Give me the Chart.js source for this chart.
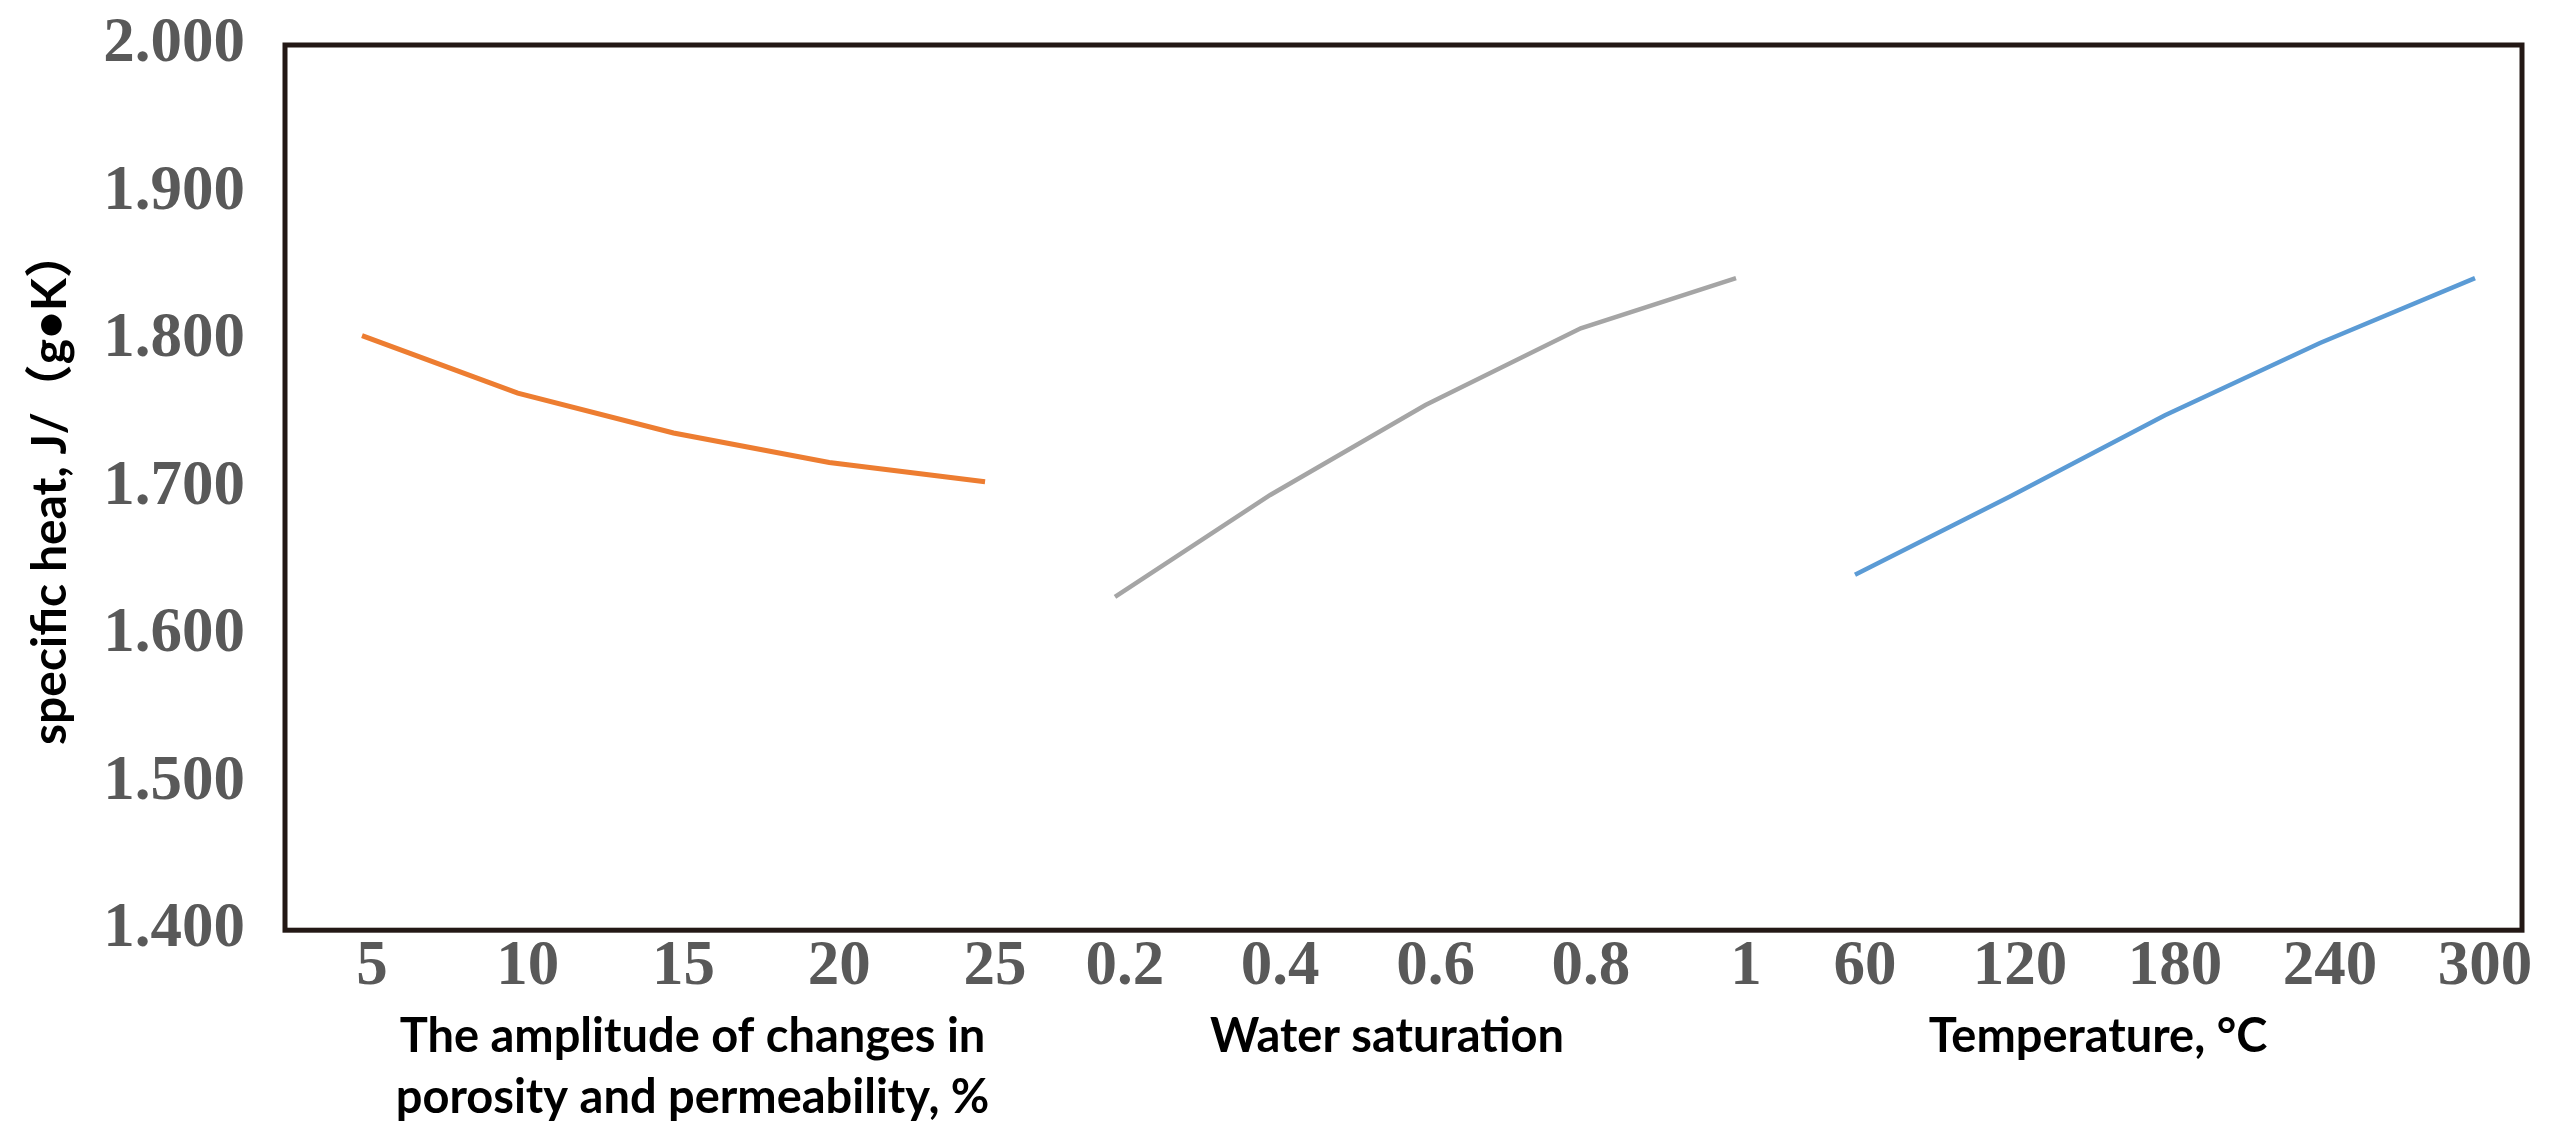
<!DOCTYPE html>
<html>
<head>
<meta charset="utf-8">
<script src="https://cdn.jsdelivr.net/npm/chart.js@4.4.1/dist/chart.umd.min.js"></script>
<style>
  html, body { margin: 0; padding: 0; background: #ffffff; }
  #wrap { width: 2552px; height: 1141px; position: relative; }
</style>
</head>
<body>
<div id="wrap"><canvas id="c"></canvas></div>
<script>
// ---- data ----
const porosityX = [5, 10, 15, 20, 25];
const porosityLabels = ['5', '10', '15', '20', '25'];
const porosityHeat = [1.803, 1.764, 1.737, 1.717, 1.704];

const saturationX = [0.2, 0.4, 0.6, 0.8, 1];
const saturationLabels = ['0.2', '0.4', '0.6', '0.8', '1'];
const saturationHeat = [1.626, 1.695, 1.756, 1.808, 1.842];

const temperatureX = [60, 120, 180, 240, 300];
const temperatureLabels = ['60', '120', '180', '240', '300'];
const temperatureHeat = [1.641, 1.694, 1.749, 1.798, 1.842];

const yTicks = [1.4, 1.5, 1.6, 1.7, 1.8, 1.9, 2.0];

const yTitle = 'specific heat, J/（g•K）';
const xTitle1 = ['The amplitude of changes in', 'porosity and permeability, %'];
const xTitle2 = 'Water saturation';
const xTitle3 = 'Temperature, °C';

// ---- styling ----
const tickFont = { family: '"Liberation Serif", "Times New Roman", serif', size: 63, weight: 'bold', lineHeight: 1.2 };
const titleFont = { family: 'Lato, "Noto Sans CJK SC", sans-serif', size: 47, weight: 'bold', lineHeight: 1.3 };
const tickColor = '#595959';
const frameColor = '#231815';

const toPoints = (xs, ys) => xs.map((x, i) => ({ x: x, y: ys[i] }));

function xAxis(min, max, values, labels, weight, title, extraPad) {
  return {
    type: 'linear',
    axis: 'x',
    position: 'bottom',
    stack: 'panels',
    stackWeight: weight,
    min: min,
    max: max,
    offset: false,
    grid: { display: false, drawTicks: false },
    border: { display: false },
    afterBuildTicks: (scale) => { scale.ticks = values.map(v => ({ value: v })); },
    afterFit: (scale) => { scale.paddingLeft = 0; scale.paddingRight = 0; },
    ticks: {
      autoSkip: false,
      maxRotation: 0,
      minRotation: 0,
      padding: 0,
      labelOffset: 10,
      color: tickColor,
      font: tickFont,
      callback: (v, i) => labels[i]
    },
    title: {
      display: true,
      text: title,
      color: '#000000',
      font: titleFont,
      padding: { top: 0, bottom: 10 + extraPad }
    }
  };
}

const framePlugin = {
  id: 'frame',
  afterDatasetsDraw(chart) {
    const a = chart.chartArea;
    const ctx = chart.ctx;
    ctx.save();
    ctx.strokeStyle = frameColor;
    ctx.lineWidth = 5;
    ctx.strokeRect(a.left, a.top, a.right - a.left, a.bottom - a.top);
    ctx.restore();
  }
};

new Chart(document.getElementById('c'), {
  type: 'line',
  data: {
    datasets: [
      { label: 'porosity', data: toPoints(porosityX, porosityHeat), xAxisID: 'x1', yAxisID: 'y', clip: false,
        borderColor: '#ED7D31', borderWidth: 5, pointRadius: 0, tension: 0, fill: false },
      { label: 'saturation', data: toPoints(saturationX, saturationHeat), xAxisID: 'x2', yAxisID: 'y', clip: false,
        borderColor: '#A5A5A5', borderWidth: 4.5, pointRadius: 0, tension: 0, fill: false },
      { label: 'temperature', data: toPoints(temperatureX, temperatureHeat), xAxisID: 'x3', yAxisID: 'y', clip: false,
        borderColor: '#5B9BD5', borderWidth: 4.5, pointRadius: 0, tension: 0, fill: false }
    ]
  },
  options: {
    responsive: true,
    maintainAspectRatio: false,
    devicePixelRatio: 1,
    animation: false,
    events: [],
    layout: { padding: { left: 0, right: 30, top: 45, bottom: 3 } },
    plugins: { legend: { display: false }, tooltip: { enabled: false } },
    scales: {
      x1: xAxis(2.528, 28.69, porosityX, porosityLabels, 815, xTitle1, 0),
      x2: xAxis(0.1807, 0.9201, saturationX, saturationLabels, 574, xTitle2, 61),
      x3: xAxis(-10.07, 318.19, temperatureX, temperatureLabels, 848, xTitle3, 61),
      y: {
        type: 'linear',
        position: 'left',
        min: 1.4,
        max: 2.0,
        grid: { display: false, drawTicks: false },
        border: { display: false },
        afterBuildTicks: (scale) => { scale.ticks = yTicks.map(v => ({ value: v })); },
        afterFit: (scale) => {
          scale.width = 285;
          scale.paddingTop = 0;
          scale.paddingBottom = 0;
        },
        ticks: {
          padding: 40,
          color: tickColor,
          font: tickFont,
          callback: (v) => Number(v).toFixed(3)
        },
        title: {
          display: true,
          text: yTitle,
          color: '#000000',
          font: { family: 'Lato, "Noto Sans CJK SC", sans-serif', size: 48, weight: 'bold', lineHeight: 1.2 },
          padding: { top: 22, bottom: 10 }
        }
      }
    }
  },
  plugins: [framePlugin]
});
</script>
</body>
</html>
